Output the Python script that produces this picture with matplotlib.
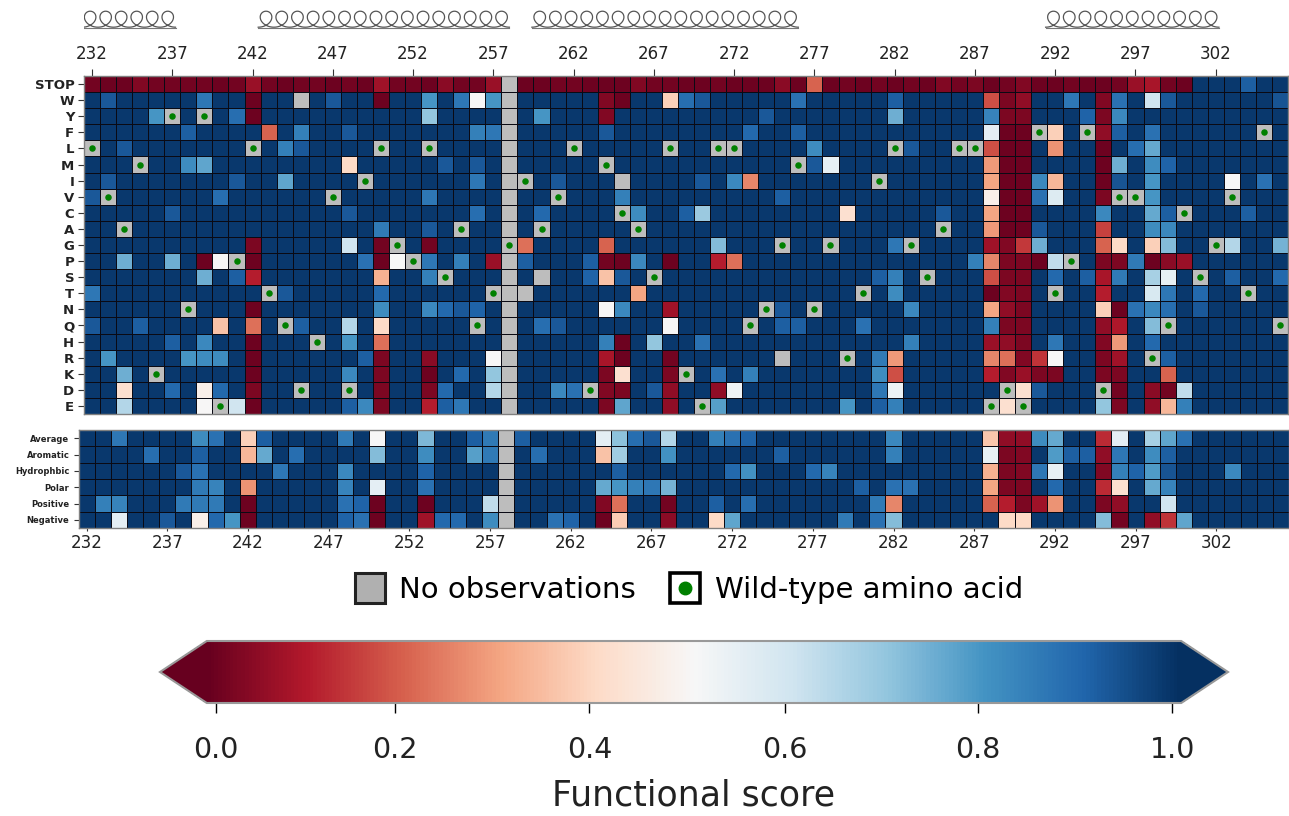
import numpy as np
import matplotlib
matplotlib.use('Agg')
import matplotlib.pyplot as plt
from matplotlib.colors import Normalize
from matplotlib.legend_handler import HandlerTuple
from matplotlib.lines import Line2D
from matplotlib.cm import ScalarMappable

# Residues and row labels
residues = list(range(232, 307))
tick_residues = list(range(232, 303, 5))
amino_acids = ['STOP', 'W', 'Y', 'F', 'L', 'M', 'I', 'V', 'C', 'A', 'G', 'P', 'S', 'T', 'N', 'Q', 'H', 'R', 'K', 'D', 'E']
summary_labels = ['Average', 'Aromatic', 'Hydrophbic', 'Polar', 'Positive', 'Negative']

# Most cells sit at this score, the rows below only list the ones that differ
background_score = 0.99

stop_scores = [.01, .0, .0, .03, .01, .01, .01, .01, .0, .01, .06, .01, .0, .01, .01, .0, .01, .0, .07, .01,
               .01, .0, .04, .01, .01, .06, np.nan, .0, .0, .01, .01, .0, .0, .0, .03, .01, .01, .0, .0, .01,
               .0, .0, .0, .04, .0, .2, .0, .01, .0, .01, .0, .01, .0, .03, .01, .02, .0, .01, .03, .0,
               .0, .01, .0, .0, .01, .06, .08, .01, .0, .99, .99, .99, .92, .99, .99]

row_W = {233: .93, 239: .87, 242: 0, 247: .93, 250: 0, 253: .8, 255: .87, 256: .5, 257: .8, 264: .03, 265: 0, 268: .38,
         269: .89, 270: .93, 276: .88, 282: .92, 288: .17, 289: .02, 290: .05, 293: .87, 295: .03, 296: .88, 298: .6, 299: .93, 306: .94}
row_Y = {236: .8, 241: .89, 242: 0, 253: .7, 260: .8, 264: .03, 274: .93, 282: .75, 288: .84, 289: .02, 290: .02, 294: .91, 295: .02, 296: .83}
row_F = {238: .92, 243: .2, 245: .85, 248: .93, 256: .85, 257: .87, 264: .93, 273: .9, 276: .92, 288: .55, 289: 0, 290: 0, 292: .38, 295: .05, 296: .92, 298: .88}
row_L = {234: .93, 244: .85, 245: .93, 277: .82, 283: .93, 288: .17, 289: 0, 290: 0, 292: .27, 295: 0, 297: .89, 298: .76}
row_M = {238: .82, 239: .77, 248: .4, 254: .93, 256: .93, 277: .93, 278: .54, 288: .28, 289: 0, 290: 0, 295: 0, 296: .75, 298: .82, 299: .91}
row_I = {233: .93, 241: .93, 244: .77, 256: .87, 261: .93, 270: .93, 272: .83, 273: .25, 288: .3, 289: 0, 290: 0, 291: .83, 292: .33, 295: 0, 296: .94, 298: .8, 303: .5, 305: .88}
row_V = {232: .93, 240: .89, 253: .87, 265: .85, 275: .92, 288: .47, 289: 0, 290: 0, 291: .88, 292: .57, 295: .02, 298: .8}
row_C = {237: .93, 248: .93, 256: .89, 260: .9, 266: .82, 269: .92, 270: .69, 279: .42, 285: .93, 288: .3, 289: 0, 290: 0, 295: .83, 298: .76, 299: .92, 304: .92}
row_A = {250: .86, 253: .93, 288: .28, 289: 0, 290: 0, 291: .93, 295: .15, 298: .82, 299: .83}
row_G = {242: .02, 248: .6, 250: .01, 253: .01, 259: .22, 264: .2, 271: .72, 282: .87, 288: .07, 289: .03, 290: .14, 291: .75, 295: .2, 296: .4, 298: .38, 299: .72, 303: .65, 306: .74}
row_P = {234: .75, 237: .75, 239: 0, 240: .5, 242: 0, 249: .88, 250: 0, 251: .5, 253: .87, 255: .85, 257: .06, 259: .92, 263: .92, 264: .01, 265: 0,
         266: .83, 268: 0, 271: .1, 272: .22, 287: .85, 288: .25, 289: .02, 290: .02, 291: 0, 292: .63, 295: .02, 296: .02, 297: .86, 298: 0, 299: .04, 300: .06}
row_S = {239: .75, 241: .92, 242: .1, 250: .32, 253: .85, 263: .91, 264: .35, 265: .93, 281: .92, 282: .85, 288: .17, 289: .02, 290: .02,
         292: .9, 294: .92, 295: .08, 296: .86, 298: .67, 299: .54, 303: .92, 306: .9}
row_T = {232: .87, 244: .93, 250: .9, 266: .3, 282: .82, 288: 0, 289: .03, 290: .02, 295: .1, 298: .58, 299: .87, 301: .9}
row_N = {242: 0, 250: .82, 253: .83, 254: .9, 255: .93, 256: .91, 264: .5, 265: .83, 268: .07, 275: .93, 283: .83, 288: .3, 289: .05, 290: .02,
         295: .38, 296: 0, 297: .88, 298: .83, 299: .89, 301: .93}
row_Q = {232: .93, 235: .92, 240: .35, 242: .22, 245: .92, 248: .65, 250: .4, 260: .89, 261: .93, 268: .5, 275: .92, 276: .92, 280: .88, 288: .85, 289: .02, 290: .02, 295: .05, 296: .09, 298: .72}
row_H = {237: .92, 239: .83, 242: 0, 248: .8, 250: .22, 264: .85, 265: 0, 267: .7, 270: .88, 283: .85, 288: .06, 289: .05, 290: .02, 292: .87, 295: .03, 296: .28, 298: .9}
row_R = {233: .8, 238: .8, 239: .82, 240: .82, 242: 0, 249: .92, 250: .02, 253: .04, 257: .5, 264: .08, 265: 0, 268: .01, 281: .86, 282: .28,
         288: .25, 289: .22, 290: .03, 291: .13, 292: .5, 295: .02, 296: .07, 299: .92}
row_K = {234: .75, 242: 0, 248: .83, 250: .02, 253: 0, 255: .9, 257: .7, 264: .02, 265: .42, 268: .02, 271: .88, 273: .85, 281: .82, 282: .17,
         288: .1, 289: .03, 290: .06, 291: .02, 292: .02, 295: .02, 296: .02, 299: .2}
row_D = {234: .42, 237: .9, 239: .47, 240: .9, 242: .02, 250: .02, 253: .02, 254: .9, 257: .65, 261: .83, 262: .88, 264: .03, 265: .02, 267: .93, 268: .05,
         271: .05, 272: .52, 281: .87, 282: .53, 290: .42, 291: .93, 296: .01, 298: .04, 299: .01, 300: .63}
row_E = {234: .65, 239: .5, 241: .6, 242: 0, 248: .92, 249: .83, 250: .02, 253: .1, 254: .92, 255: .87, 264: .02, 265: .77, 268: .05, 271: .78, 279: .8,
         281: .92, 282: .85, 289: .42, 295: .7, 296: .02, 298: .05, 299: .33, 300: .85}

# Positions without a measured score
no_observations = {'W': [245], 'I': [265], 'S': [260], 'T': [259], 'R': [275]}
missing_residue = 258

# Wild-type residue of every position
wild_type = {'Y': [237, 239], 'F': [291, 294, 305], 'L': [232, 242, 250, 253, 262, 268, 271, 272, 282, 286, 287],
             'M': [235, 264, 276], 'I': [249, 259, 281], 'V': [233, 247, 261, 296, 297, 303], 'C': [265, 300],
             'A': [234, 255, 260, 266, 285], 'G': [251, 258, 275, 278, 283, 302], 'P': [241, 252, 293],
             'S': [254, 267, 284, 301], 'T': [243, 257, 280, 292, 304], 'N': [238, 274, 277],
             'Q': [244, 256, 273, 299, 306], 'H': [246], 'R': [279, 298], 'K': [236, 269],
             'D': [245, 248, 263, 289, 295], 'E': [240, 270, 288, 290]}

# Summary rows
avg_average = {234: .87, 239: .82, 240: .88, 242: .38, 243: .92, 248: .86, 250: .5, 253: .73, 256: .92, 257: .86, 259: .92, 264: .55, 265: .71,
               266: .89, 267: .93, 268: .65, 271: .85, 272: .88, 273: .91, 282: .83, 288: .36, 289: .05, 290: .05, 291: .82, 292: .76, 295: .12,
               296: .55, 298: .67, 299: .77, 300: .88}
avg_aromatic = {236: .89, 239: .92, 242: .33, 243: .76, 245: .89, 250: .72, 253: .82, 256: .78, 257: .86, 260: .89, 264: .35, 265: .68, 268: .81,
                275: .92, 282: .85, 288: .54, 289: .02, 290: .03, 292: .79, 293: .92, 294: .92, 295: .05, 296: .87, 298: .82, 299: .92}
avg_hydrophobic = {238: .93, 239: .88, 244: .87, 248: .83, 253: .91, 265: .92, 272: .9, 273: .81, 277: .9, 278: .84, 288: .32, 289: .02, 290: .03,
                   291: .87, 292: .54, 295: .03, 296: .85, 297: .91, 298: .79, 299: .94, 303: .83}
avg_polar = {239: .86, 240: .84, 242: .27, 248: .84, 250: .55, 253: .88, 264: .76, 265: .8, 266: .85, 267: .87, 268: .74, 280: .92, 282: .88, 283: .88,
             288: .3, 289: .02, 290: .02, 292: .9, 295: .12, 296: .42, 298: .76, 299: .84}
avg_positive = {233: .85, 234: .84, 238: .86, 239: .86, 240: .86, 242: 0, 248: .88, 249: .91, 250: 0, 253: 0, 257: .63, 264: .03, 265: .22, 268: .01,
                271: .92, 273: .89, 281: .86, 282: .25, 288: .2, 289: .1, 290: .02, 291: .07, 292: .27, 295: .02, 296: .05, 299: .6}
avg_negative = {234: .55, 237: .93, 239: .47, 240: .9, 241: .8, 242: 0, 248: .91, 249: .88, 250: 0, 253: .07, 254: .9, 255: .9, 257: .82, 261: .88, 262: .91,
                264: 0, 265: .37, 268: .04, 271: .4, 272: .77, 279: .86, 281: .88, 282: .72, 289: .4, 290: .4, 295: .72, 296: .01, 298: .05, 299: .13, 300: .77}

# Helices above the map, in residue numbers
helix_start = [231.4, 242.35, 259.4, 291.4]
helix_end = [237.2, 258.0, 276.0, 302.2]
helix_turns = [6, 16, 17, 11]

# Colorbar ticks, where they sit on the bar in the reference
cbar_positions = [0, .1875, .3906, .5948, .7968, 1.0]
cbar_labels = ['0.0', '0.2', '0.4', '0.6', '0.8', '1.0']

W, H = 1289, 816
fig = plt.figure(figsize=(W / 100, H / 100), dpi=100)


def px_axes(x0, y0, x1, y1):
    return fig.add_axes([x0 / W, 1 - y1 / H, (x1 - x0) / W, (y1 - y0) / H])


def fill_row(row):
    values = np.full(len(residues), background_score)
    for res, score in row.items():
        values[res - residues[0]] = score
    return values


cmap = plt.get_cmap('RdBu').copy()
cmap.set_bad('#bdbdbd')
norm = Normalize(vmin=-0.0094, vmax=1.0094)

# Build the top matrix
top_rows = [row_W, row_Y, row_F, row_L, row_M, row_I, row_V, row_C, row_A, row_G, row_P, row_S, row_T, row_N, row_Q, row_H, row_R, row_K, row_D, row_E]
top_matrix = np.vstack([stop_scores] + [fill_row(r) for r in top_rows])
top_matrix[:, missing_residue - residues[0]] = np.nan
for aa, where in no_observations.items():
    for res in where:
        top_matrix[amino_acids.index(aa), res - residues[0]] = np.nan
for aa, where in wild_type.items():
    for res in where:
        top_matrix[amino_acids.index(aa), res - residues[0]] = np.nan

summary_rows = [avg_average, avg_aromatic, avg_hydrophobic, avg_polar, avg_positive, avg_negative]
summary_matrix = np.vstack([fill_row(r) for r in summary_rows])
summary_matrix[:, missing_residue - residues[0]] = np.nan

x_edges = np.arange(residues[0] - 0.5, residues[-1] + 1)

# Main heatmap
ax = px_axes(84, 76, 1288, 414)
ax.pcolormesh(x_edges, np.arange(len(amino_acids) + 1), np.ma.masked_invalid(top_matrix), cmap=cmap, norm=norm,
              edgecolors='#0a0a14', linewidth=0.55)
ax.set_ylim(len(amino_acids), 0)
ax.set_xlim(x_edges[0], x_edges[-1])
for aa, where in wild_type.items():
    ax.scatter(where, [amino_acids.index(aa) + 0.5] * len(where), s=22, color='#008000', zorder=3, linewidths=0)
ax.xaxis.tick_top()
ax.set_xticks(tick_residues)
ax.set_xticklabels(tick_residues, fontsize=12, color='#222222')
ax.tick_params(axis='x', length=5, width=0.8, pad=4, color='#333333')
ax.set_yticks(np.arange(len(amino_acids)) + 0.5)
ax.set_yticklabels(amino_acids, fontsize=9.5, fontweight='bold', color='#222222')
ax.tick_params(axis='y', length=4, width=0.8, pad=3, color='#333333')

# Summary heatmap
ax2 = px_axes(78.5, 430, 1289, 528)
ax2.pcolormesh(x_edges, np.arange(len(summary_labels) + 1), np.ma.masked_invalid(summary_matrix), cmap=cmap, norm=norm,
               edgecolors='#0a0a14', linewidth=0.55)
ax2.set_ylim(len(summary_labels), 0)
ax2.set_xlim(x_edges[0], x_edges[-1])
ax2.set_xticks(tick_residues)
ax2.set_xticklabels(tick_residues, fontsize=12, color='#222222')
ax2.tick_params(axis='x', length=2.5, width=0.8, pad=1.5, color='#333333')
ax2.set_yticks(np.arange(len(summary_labels)) + 0.5)
ax2.set_yticklabels(summary_labels, fontsize=6, fontweight='bold', color='#222222')
ax2.tick_params(axis='y', length=3.5, width=0.8, pad=3, color='#333333')

for a in (ax, ax2):
    for spine in a.spines.values():
        spine.set_color('#808080')
        spine.set_linewidth(1)

# Helix cartoon
ax_helix = px_axes(84, 10, 1288, 30)
ax_helix.set_xlim(x_edges[0], x_edges[-1])
ax_helix.set_ylim(-1.35, 1.15)
ax_helix.axis('off')
for start, end, turns in zip(helix_start, helix_end, helix_turns):
    pitch = (end - start) / turns
    t = np.linspace(0, turns, 80 * turns) * 2 * np.pi
    xs = start + pitch * t / (2 * np.pi) + 0.6 * pitch * np.sin(t)
    ys = -np.cos(t)
    ax_helix.plot(xs, ys, color='#555555', lw=0.9)
    ax_helix.plot([start, end], [-1.05, -1.05], color='#777777', lw=0.8)

# Legend
no_obs_handle = Line2D([], [], ls='', marker='s', ms=21, mfc='#b0b0b0', mec='#222222', mew=2.2)
wt_box = Line2D([], [], ls='', marker='s', ms=21, mfc='white', mec='black', mew=2.6)
wt_dot = Line2D([], [], ls='', marker='o', ms=9, mfc='#008000', mec='#008000')
fig.legend([no_obs_handle, (wt_box, wt_dot)], ['No observations', 'Wild-type amino acid'], ncol=2, frameon=False,
           fontsize=21, loc='center', bbox_to_anchor=(689 / W, 1 - 590 / H), handlelength=1.0, handletextpad=0.5,
           columnspacing=1.2, handler_map={tuple: HandlerTuple(ndivide=1, pad=0)})

# Colorbar, the axes runs tip to tip
cax = px_axes(160, 641, 1228, 703)
cb = fig.colorbar(ScalarMappable(norm=norm, cmap=cmap), cax=cax, orientation='horizontal', extend='both', extendfrac=0.048)
cb.set_ticks(cbar_positions)
cb.set_ticklabels(cbar_labels)
cb.minorticks_off()
cb.ax.tick_params(length=7, width=1, labelsize=20.5, pad=17, labelcolor='#222222')
cb.outline.set_edgecolor('#999999')
cb.outline.set_linewidth(1.5)
cb.set_label('Functional score', fontsize=25, labelpad=10, color='#222222')

plt.savefig('out.png', dpi=100)
